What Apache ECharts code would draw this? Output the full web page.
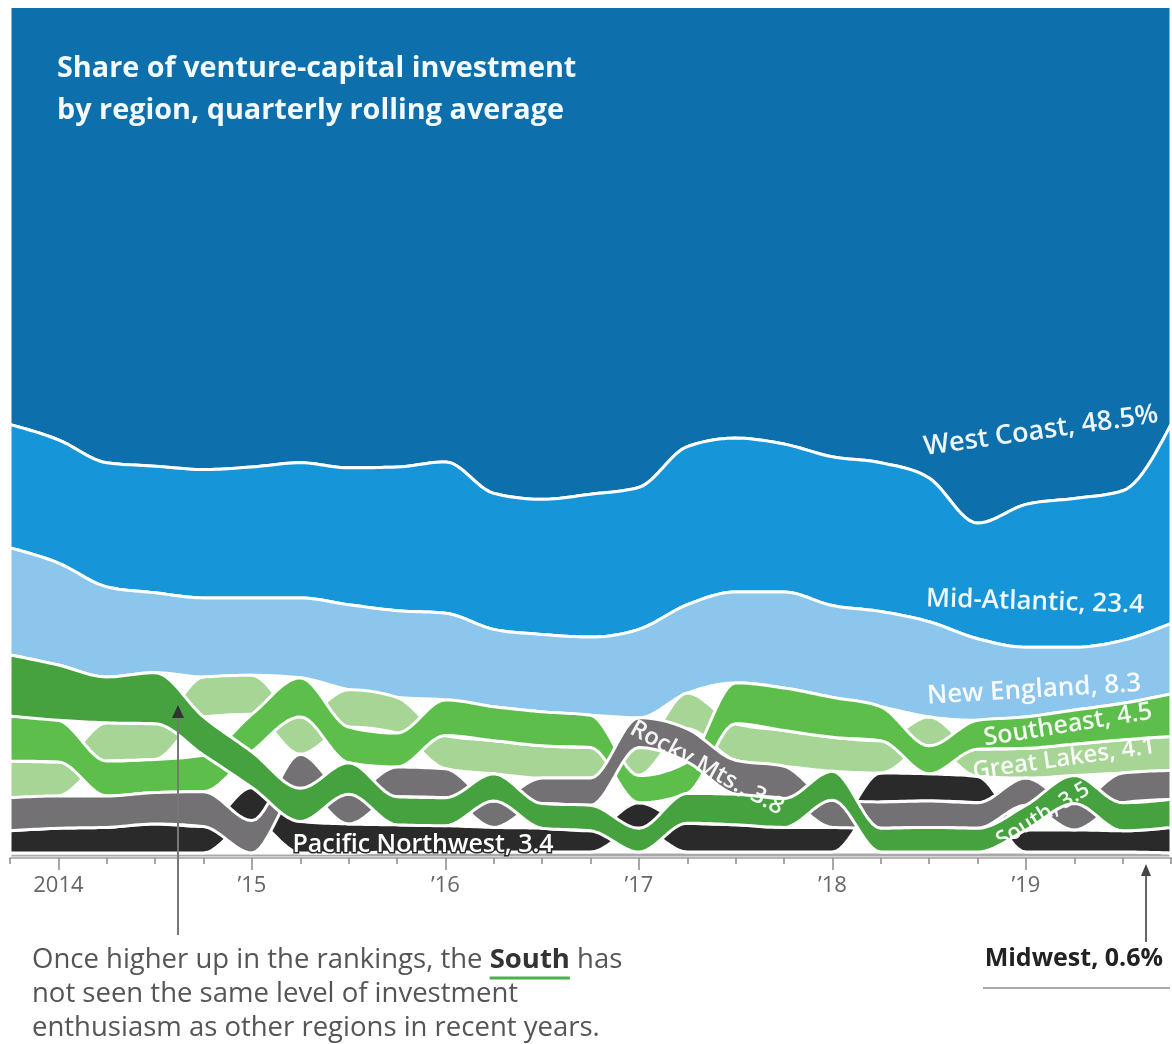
<!DOCTYPE html>
<html><head><meta charset="utf-8">
<script src="https://cdn.jsdelivr.net/npm/echarts@6/dist/echarts.min.js"></script>
<style>html,body{margin:0;padding:0;background:#fff;}#chart{width:1172px;height:1044px;}</style>
</head><body><div id="chart"></div>
<script>
// ---- data (share of VC investment, %, quarterly samples) ----
const times = [2013.75,2014,2014.25,2014.5,2014.75,2015,2015.25,2015.5,2015.75,2016,2016.25,2016.5,2016.75,2017,2017.25,2017.5,2017.75,2018,2018.25,2018.5,2018.75,2019,2019.25,2019.5,2019.75];
const westCoast   = [49.1,50.8,53.5,53.9,54.4,54.0,53.5,54.1,53.9,53.4,57.2,57.9,57.2,56.5,51.6,50.6,51.3,52.7,53.5,55.3,60.5,58.4,57.6,56.7,48.5];
const midAtlantic = [14.5,14.5,14.6,14.9,15.1,15.4,15.9,16.1,16.9,17.8,16.0,15.9,16.8,16.7,18.6,18.1,17.4,17.5,17.5,16.9,13.6,16.8,17.5,17.6,23.4];
const newEngland  = [12.6,12.0,10.6,9.4,9.3,9.1,9.4,10.0,10.2,10.2,9.1,9.1,9.2,10.4,10.4,10.7,11.3,10.8,11.2,11.2,9.6,8.2,7.4,7.4,8.3];
const southeast   = [5.3,4.9,4.1,3.9,4.3,4.4,4.6,4.2,4.0,4.2,4.0,4.0,3.8,3.2,3.7,4.8,5.0,4.7,4.0,3.3,3.4,3.7,4.0,4.3,5.0];
const greatLakes  = [4.3,4.0,4.5,4.2,4.7,4.6,4.4,4.4,4.2,3.9,3.9,3.8,3.6,3.3,4.2,4.3,4.2,4.0,3.8,3.4,3.2,3.5,3.7,3.9,4.0];
const rockyMts    = [3.9,3.8,3.7,3.7,4.1,3.8,4.0,3.5,3.5,3.4,3.1,3.0,3.2,3.5,3.9,4.0,3.8,3.2,3.1,3.1,3.0,3.2,3.1,3.5,3.4];
const south       = [7.2,6.5,5.4,6.0,4.5,4.2,3.9,3.7,3.3,3.3,3.2,2.9,3.0,2.8,3.5,3.6,3.4,3.4,2.8,2.9,2.8,2.9,3.3,3.3,3.3];
const pacificNW   = [2.6,2.9,3.0,3.4,3.1,3.9,3.7,3.4,3.2,3.1,2.9,2.8,2.5,3.0,3.4,3.2,2.9,2.9,3.4,3.2,3.1,2.6,2.6,2.5,3.0];
const midwest     = [0.6,0.6,0.6,0.6,0.6,0.6,0.6,0.6,0.7,0.7,0.7,0.7,0.7,0.7,0.7,0.7,0.7,0.7,0.7,0.7,0.7,0.7,0.7,0.7,0.6];
const regionNames = ['West Coast','Mid-Atlantic','New England','Southeast','Great Lakes','Rocky Mts.','South','Pacific Northwest','Midwest'];
const yearTicks  = [2014,2015,2016,2017,2018,2019];
const yearLabels = ['2014','\u201915','\u201916','\u201917','\u201918','\u201919'];

// ---- styles ----
const regionColors = ['#0d6fab','#1795d9','#8cc6ec','#5dbe4c','#a6d596','#737174','#46a23f','#2a2a2a','#a9a9a9'];
const drawOrder = [0,1,2,8,7,4,3,5,6];

const values = [westCoast, midAtlantic, newEngland, southeast, greatLakes, rockyMts, south, pacificNW, midwest];
const nT = times.length;
const bands = values.map(() => ({lo: [], hi: []}));
for (let i = 0; i < nT; i++) {
  const order = values.map((v, k) => k).sort((a, b) => values[a][i] - values[b][i]);
  let cum = 0;
  order.forEach((k, j) => {
    bands[k].lo[i] = cum;
    cum += values[k][i];
    bands[k].hi[i] = (j === order.length - 1) ? 105 : cum;
  });
}

function tangents(xs, ys) {
  const n = xs.length, t = new Array(n), s = [];
  for (let i = 0; i < n - 1; i++) s.push((ys[i+1] - ys[i]) / (xs[i+1] - xs[i]));
  for (let i = 1; i < n - 1; i++) {
    const h0 = xs[i] - xs[i-1], h1 = xs[i+1] - xs[i];
    const s0 = s[i-1], s1 = s[i];
    const p = (s0 * h1 + s1 * h0) / (h0 + h1);
    t[i] = (Math.sign(s0) + Math.sign(s1)) * Math.min(Math.abs(s0), Math.abs(s1), 0.5 * Math.abs(p)) || 0;
  }
  t[0] = (3 * s[0] - t[1]) / 2;
  t[n-1] = (3 * s[n-2] - t[n-2]) / 2;
  return t;
}
function curvePoints(pts) {
  const xs = pts.map(p => p[0]), ys = pts.map(p => p[1]);
  const t = tangents(xs, ys);
  const out = [pts[0]];
  const N = 12;
  for (let i = 0; i < pts.length - 1; i++) {
    const h = xs[i+1] - xs[i];
    const p0 = [xs[i], ys[i]], p1 = [xs[i] + h/3, ys[i] + t[i]*h/3];
    const p2 = [xs[i+1] - h/3, ys[i+1] - t[i+1]*h/3], p3 = [xs[i+1], ys[i+1]];
    for (let k = 1; k <= N; k++) {
      const u = k / N, a = (1-u)*(1-u)*(1-u), b = 3*(1-u)*(1-u)*u, c = 3*(1-u)*u*u, d = u*u*u;
      out.push([a*p0[0]+b*p1[0]+c*p2[0]+d*p3[0], a*p0[1]+b*p1[1]+c*p2[1]+d*p3[1]]);
    }
  }
  return out;
}

function renderItem(params, api) {
  const r = api.value(2);
  const b = bands[r];
  const up = curvePoints(times.map((tt, i) => api.coord([tt, b.hi[i]])));
  const lo = curvePoints(times.map((tt, i) => api.coord([tt, b.lo[i]])));
  const points = up.concat(lo.reverse());
  return {
    type: 'polygon',
    shape: {points: points},
    style: {fill: regionColors[r], stroke: '#fff', lineWidth: 3, lineJoin: 'round'}
  };
}

const chart = echarts.init(document.getElementById('chart'), null, {renderer: 'canvas'});
const FONT = '"Open Sans", "Noto Sans", sans-serif';
chart.setOption({
  animation: false,
  backgroundColor: '#fff',
  grid: {left: 10, right: 1, top: 8, bottom: 186},
  xAxis: [
    {type: 'value', min: 2013.75, max: 2019.75, interval: 0.25, z: 10,
     axisLine: {show: true, lineStyle: {color: '#b5b5b5', width: 2}},
     axisTick: {show: true, length: 6, lineStyle: {color: '#8a8a8a', width: 1.5}},
     axisLabel: {show: false}, splitLine: {show: false}},
    {type: 'value', min: 2013.75, max: 2019.75, position: 'bottom', z: 10,
     axisLine: {show: false},
     axisTick: {show: true, customValues: yearTicks, length: 12, lineStyle: {color: '#8a8a8a', width: 1.5}},
     axisLabel: {show: true, customValues: yearTicks, margin: 17, color: '#666', fontSize: 22, fontFamily: FONT,
       formatter: v => { const k = yearTicks.indexOf(Math.round(v)); return k >= 0 ? yearLabels[k] : ''; }},
     splitLine: {show: false}}
  ],
  yAxis: {type: 'value', min: 0, max: 100, show: false},
  series: [{
    type: 'custom', renderItem: renderItem, clip: true, silent: true,
    encode: {x: 0, y: 1},
    data: drawOrder.map(r => [2016.75, 50, r])
  }]
});

// ---- annotations ----
const ribbonLabels = [
  {text: 'West Coast, 48.5%', x: 1041, y: 431, rot: 0.14, size: 27},
  {text: 'Mid-Atlantic, 23.4', x: 1035, y: 602, rot: -0.03, size: 26},
  {text: 'New England, 8.3', x: 1034, y: 690, rot: 0.06, size: 26},
  {text: 'Southeast, 4.5', x: 1068, y: 725, rot: 0.16, size: 25},
  {text: 'Great Lakes, 4.1', x: 1064, y: 759, rot: 0.14, size: 24},
  {text: 'South, 3.5', x: 1043, y: 815, rot: 0.55, size: 22},
  {text: 'Rocky Mts., 3.8', x: 707, y: 768, rot: -0.5, size: 24}
];
const g = [];
ribbonLabels.forEach(l => g.push({
  type: 'text', x: l.x, y: l.y, rotation: l.rot, z: 100,
  style: {text: l.text, fill: 'rgba(255,255,255,0.93)', font: '600 ' + l.size + 'px ' + FONT,
          align: 'center', verticalAlign: 'middle', textAlign: 'center', textVerticalAlign: 'middle'}
}));
g.push({type: 'text', x: 423, y: 845, z: 100,
  style: {text: 'Pacific Northwest, 3.4', fill: '#fff', stroke: '#2a2a2a', lineWidth: 3,
          font: '600 25px ' + FONT, align: 'center', verticalAlign: 'middle', textAlign: 'center', textVerticalAlign: 'middle'}});
g.push({type: 'text', x: 57, y: 48, z: 100,
  style: {text: 'Share of venture-capital investment\nby region, quarterly rolling average', fill: '#f4f9fc',
          font: 'bold 28.8px ' + FONT, lineHeight: 42, align: 'left', verticalAlign: 'top', textAlign: 'left', textVerticalAlign: 'top'}});

const noteSize = 27.5;
const noteLeft = 32;
g.push({type: 'text', x: noteLeft, y: 943, z: 100,
  style: {text: 'Once higher up in the rankings, the {b|South} has\nnot seen the same level of investment\nenthusiasm as other regions in recent years.',
          fill: '#555', font: noteSize + 'px ' + FONT, lineHeight: 34, align: 'left', verticalAlign: 'top', textAlign: 'left', textVerticalAlign: 'top',
          rich: {b: {fontWeight: 'bold', fill: '#333', fontSize: noteSize, fontFamily: FONT, lineHeight: 34}}}});
// underline under "South" measured from the rendered font
const mc = document.createElement('canvas').getContext('2d');
mc.font = noteSize + 'px "Open Sans"';
const preW = mc.measureText('Once higher up in the rankings, the ').width;
mc.font = 'bold ' + noteSize + 'px "Open Sans"';
const southW = mc.measureText('South').width;
g.push({type: 'line', z: 100, shape: {x1: noteLeft + preW, y1: 978, x2: noteLeft + preW + southW, y2: 978}, style: {stroke: '#4caf50', lineWidth: 3}});

g.push({type: 'text', x: 1163, y: 959, z: 100,
  style: {text: 'Midwest, 0.6%', fill: '#222', font: 'bold 25px ' + FONT, align: 'right', verticalAlign: 'middle', textAlign: 'right', textVerticalAlign: 'middle'}});
g.push({type: 'line', z: 100, shape: {x1: 983, y1: 988, x2: 1170, y2: 988}, style: {stroke: '#aaa', lineWidth: 2}});
g.push({type: 'line', z: 100, shape: {x1: 178, y1: 935, x2: 178, y2: 716}, style: {stroke: '#777', lineWidth: 2}});
g.push({type: 'polygon', z: 101, shape: {points: [[178, 705], [172, 718], [184, 718]]}, style: {fill: '#333'}});
g.push({type: 'line', z: 100, shape: {x1: 1146, y1: 942, x2: 1146, y2: 874}, style: {stroke: '#666', lineWidth: 2}});
g.push({type: 'polygon', z: 101, shape: {points: [[1146, 864], [1141, 876], [1151, 876]]}, style: {fill: '#444'}});
chart.setOption({graphic: {elements: g}});
</script></body></html>
